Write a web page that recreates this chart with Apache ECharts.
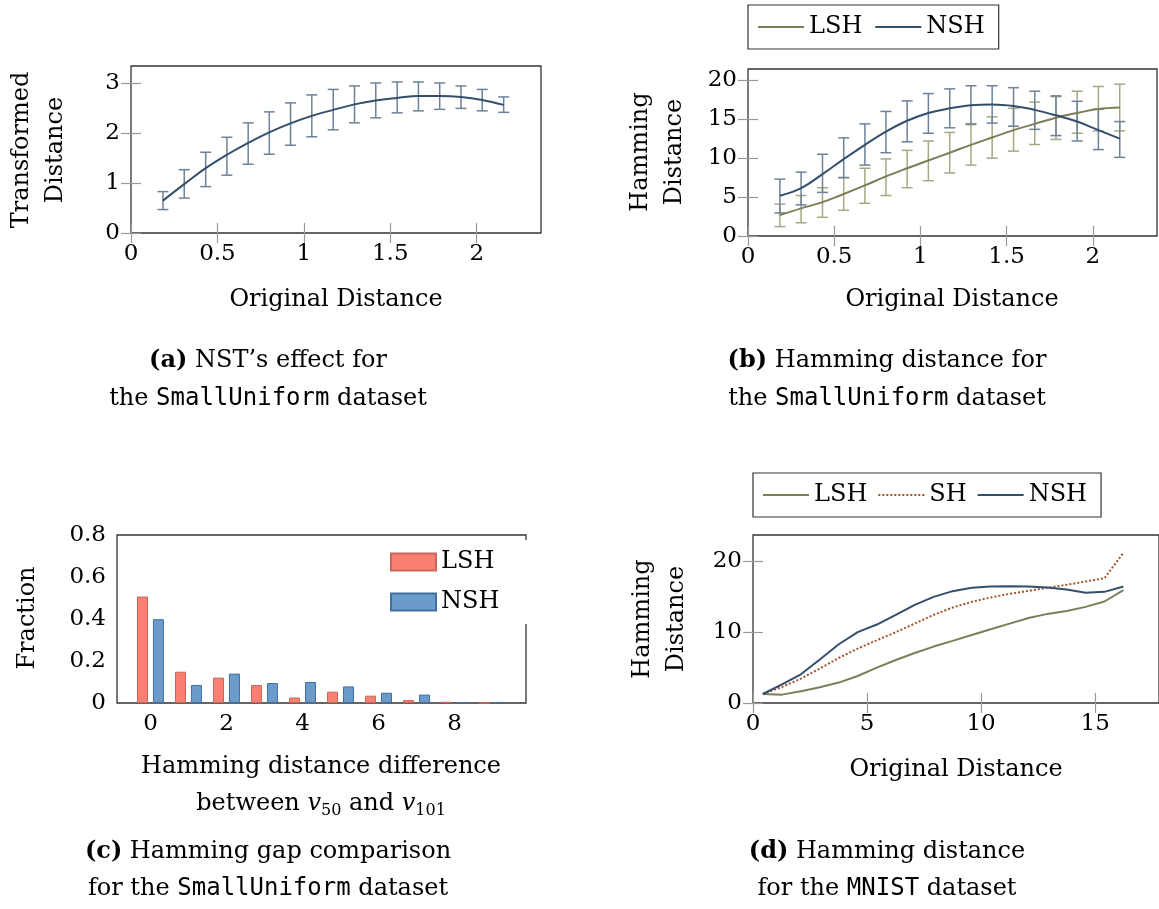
<!DOCTYPE html>
<html><head><meta charset="utf-8">
<script src="https://cdn.jsdelivr.net/npm/echarts@6/dist/echarts.min.js"></script>
<style>html,body{margin:0;padding:0;background:#fff}#c{width:1159px;height:909px}</style>
</head><body><div id="c"></div>
<script>
// ---------- DATA ----------
// (a) NST's effect, (b) Hamming distance  (SmallUniform)
const distX   = [0.185,0.308,0.432,0.555,0.678,0.800,0.923,1.046,1.170,1.293,1.416,1.540,1.663,1.786,1.909,2.032,2.156];
const nstMean = [0.65,0.98,1.30,1.57,1.81,2.02,2.20,2.35,2.47,2.58,2.66,2.71,2.75,2.75,2.73,2.67,2.57];
const nstLo   = [0.47,0.70,0.93,1.16,1.38,1.58,1.76,1.93,2.07,2.21,2.31,2.41,2.45,2.48,2.50,2.45,2.42];
const nstHi   = [0.83,1.27,1.62,1.92,2.21,2.43,2.61,2.77,2.88,2.95,3.01,3.03,3.03,3.01,2.95,2.88,2.73];

const bNshMean = [5.17,6.15,7.95,9.87,11.7,13.4,14.8,15.8,16.4,16.8,16.9,16.7,16.2,15.5,14.7,13.6,12.5];
const bNshLo   = [2.96,4.0,5.6,7.5,9.1,10.7,12.1,13.2,13.9,14.4,14.5,14.1,13.7,12.9,12.2,11.1,10.1];
const bNshHi   = [7.3,8.2,10.5,12.6,14.4,16.0,17.35,18.3,18.9,19.3,19.3,19.05,18.6,18.0,17.3,16.3,14.7];
const bLshMean = [2.7,3.55,4.35,5.4,6.5,7.65,8.7,9.7,10.7,11.7,12.65,13.6,14.4,15.2,15.8,16.3,16.5];
const bLshLo   = [1.2,1.7,2.4,3.3,4.2,5.2,6.2,7.1,8.1,9.1,10.0,10.9,11.75,12.4,13.2,13.5,13.5];
const bLshHi   = [4.1,5.2,6.2,7.5,8.7,9.9,11.0,12.2,13.3,14.3,15.3,16.4,17.2,17.9,18.6,19.2,19.5];

// (c) Hamming gap comparison
const gapX   = [0,1,2,3,4,5,6,7,8,9];
const gapLsh = [0.507,0.149,0.121,0.086,0.026,0.054,0.035,0.014,0.006,0];
const gapNsh = [0.399,0.086,0.140,0.095,0.100,0.079,0.049,0.040,0.004,0.005];

// (d) MNIST
const mnX   = [0.43,1.27,2.10,2.93,3.76,4.59,5.43,6.26,7.09,7.92,8.75,9.59,10.42,11.25,12.08,12.91,13.75,14.58,15.41,16.24];
const mnLsh = [1.27,1.18,1.65,2.22,2.88,3.81,5.0,6.07,7.06,7.96,8.76,9.6,10.41,11.2,12.0,12.57,12.99,13.56,14.32,15.92];
const mnSh  = [1.27,2.26,3.44,4.85,6.36,7.68,8.86,9.99,11.2,12.43,13.47,14.27,14.89,15.4,15.82,16.25,16.67,17.14,17.61,21.19];
const mnNsh = [1.27,2.64,4.05,6.13,8.29,9.99,11.07,12.43,13.84,14.97,15.78,16.25,16.44,16.48,16.44,16.3,16.0,15.54,15.68,16.44];

// tick labels
const ticksDistX = [0,0.5,1,1.5,2];
const ticksAY    = [0,1,2,3];
const ticksBY    = [0,5,10,15,20];
const ticksCX    = [0,2,4,6,8];
const ticksCY    = [0,0.2,0.4,0.6,0.8];
const ticksDX    = [0,5,10,15];
const ticksDY    = [0,10,20];

// ---------- STYLE ----------
const SERIF = 'DejaVu Serif';
const MONO = 'DejaVu Sans Mono';
const FS = 23;
const C_NSH = '#344e6c', C_NSH_ERR = '#6d8299';
const C_LSH = '#7d7d57', C_LSH_ERR = '#a7a783';
const C_SH = '#a0522d';
const C_BAR_L = '#fa8072', C_BAR_LB = '#c9675c';
const C_BAR_N = '#6b9bcb', C_BAR_NB = '#41709e';
const TICK = {show:true, inside:true, length:10, lineStyle:{color:'#9a9a9a', width:1.2}};

const zip = (xs, ys) => xs.map((x,i)=>[x, ys[i]]);

const chart = echarts.init(document.getElementById('c'), null, {renderer:'canvas'});

const grids = [
  {left:131, top:66, width:410, height:167},
  {left:748, top:69, width:409, height:167},
  {left:117, top:535, width:409, height:168},
  {left:753, top:535, width:408, height:168}
].map(g => Object.assign({show:true, borderColor:'#333', borderWidth:1.3, backgroundColor:'transparent'}, g));

function mainX(grid, min, max, labels, ticks) {
  return {type:'value', gridIndex:grid, min, max, position:'bottom',
    axisLine:{show:false}, splitLine:{show:false},
    axisTick: ticks ? Object.assign({customValues:labels}, TICK) : {show:false},
    axisLabel:{customValues:labels, fontFamily:SERIF, fontSize:FS, color:'#000', margin:10}};
}
function mainY(grid, min, max, labels, ticks) {
  return {type:'value', gridIndex:grid, min, max, position:'left',
    axisLine:{show:false}, splitLine:{show:false},
    axisTick: ticks ? Object.assign({customValues:labels}, TICK) : {show:false},
    axisLabel:{customValues:labels, fontFamily:SERIF, fontSize:FS, color:'#000', margin:11}};
}
function mirX(grid, min, max, labels) {
  return {type:'value', gridIndex:grid, min, max, position:'top',
    axisLine:{show:false}, splitLine:{show:false}, axisLabel:{show:false},
    axisTick:Object.assign({customValues:labels}, TICK)};
}
function mirY(grid, min, max, labels) {
  return {type:'value', gridIndex:grid, min, max, position:'right',
    axisLine:{show:false}, splitLine:{show:false}, axisLabel:{show:false},
    axisTick:Object.assign({customValues:labels}, TICK)};
}

const xAxis = [
  mainX(0, 0, 2.372, ticksDistX, true),
  mainX(1, 0, 2.372, ticksDistX, true),
  mainX(2, -0.88, 9.88, ticksCX, false),
  mainX(3, 0, 17.8, ticksDX, true),
  mirX(0, 0, 2.372, ticksDistX),
  mirX(1, 0, 2.372, ticksDistX),
  mirX(3, 0, 17.8, ticksDX)
];
const yAxis = [
  mainY(0, 0, 3.35, ticksAY, true),
  mainY(1, 0, 21.45, ticksBY, true),
  mainY(2, 0, 0.8, ticksCY, false),
  mainY(3, 0, 23.7, ticksDY, true),
  mirY(0, 0, 3.35, ticksAY),
  mirY(1, 0, 21.45, ticksBY),
  mirY(3, 0, 23.7, ticksDY)
];

function errSeries(name, idx, xs, lo, hi, color) {
  return {
    name, type:'custom', xAxisIndex:idx, yAxisIndex:idx, silent:true, z:2,
    data: xs.map((x,i)=>[x, lo[i], hi[i]]),
    encode:{x:0, y:[1,2]},
    renderItem(params, api) {
      const x = api.value(0);
      const p1 = api.coord([x, api.value(1)]);
      const p2 = api.coord([x, api.value(2)]);
      const w = 5.5;
      const st = {stroke:color, lineWidth:1.5, fill:null};
      return {type:'group', children:[
        {type:'line', shape:{x1:p1[0], y1:p1[1], x2:p2[0], y2:p2[1]}, style:st},
        {type:'line', shape:{x1:p1[0]-w, y1:p1[1], x2:p1[0]+w, y2:p1[1]}, style:st},
        {type:'line', shape:{x1:p2[0]-w, y1:p2[1], x2:p2[0]+w, y2:p2[1]}, style:st}
      ]};
    }
  };
}
function lineSeries(name, idx, xs, ys, color, smooth, type) {
  return {name, type:'line', xAxisIndex:idx, yAxisIndex:idx, data:zip(xs, ys),
    symbol:'none', smooth: smooth || false, z:3,
    lineStyle:{color, width:2, type: type || 'solid'}, itemStyle:{color}};
}

const series = [
  // (a)
  errSeries('nstErr', 0, distX, nstLo, nstHi, C_NSH_ERR),
  lineSeries('NST', 0, distX, nstMean, C_NSH, 0.4),
  // (b)
  errSeries('bLshErr', 1, distX, bLshLo, bLshHi, C_LSH_ERR),
  errSeries('bNshErr', 1, distX, bNshLo, bNshHi, C_NSH_ERR),
  lineSeries('LSH', 1, distX, bLshMean, C_LSH, 0.4),
  lineSeries('NSH', 1, distX, bNshMean, C_NSH, 0.4),
  // (c)
  {name:'LSH ', type:'bar', xAxisIndex:2, yAxisIndex:2, data:zip(gapX, gapLsh),
   barWidth:11, barGap:'45%', itemStyle:{color:C_BAR_L, borderColor:C_BAR_LB, borderWidth:1}},
  {name:'NSH ', type:'bar', xAxisIndex:2, yAxisIndex:2, data:zip(gapX, gapNsh),
   barWidth:11, barGap:'45%', itemStyle:{color:C_BAR_N, borderColor:C_BAR_NB, borderWidth:1}},
  // (d)
  lineSeries('LSH  ', 3, mnX, mnLsh, C_LSH),
  lineSeries('SH', 3, mnX, mnSh, C_SH, false, 'dotted'),
  lineSeries('NSH  ', 3, mnX, mnNsh, C_NSH)
];

const legTxt = {fontFamily:SERIF, fontSize:24, color:'#000'};
const legend = [
  {data:['LSH','NSH'], left:748, top:5, orient:'horizontal', itemWidth:46, itemHeight:14, itemGap:12,
   padding:[10,14,10,9], borderColor:'#333', borderWidth:1.2, textStyle:legTxt, selectedMode:false,
   itemStyle:{opacity:0}, formatter: n => n.trim()},
  {data:[{name:'LSH ', icon:'rect'},{name:'NSH ', icon:'rect'}], left:380, top:540, orient:'vertical',
   itemWidth:45, itemHeight:17, itemGap:16, padding:[10,34,10,10], backgroundColor:'#fff',
   textStyle:legTxt, selectedMode:false, formatter: n => n.trim()},
  {data:['LSH  ','SH','NSH  '], left:753, top:473, orient:'horizontal', itemWidth:46, itemHeight:14, itemGap:10,
   padding:[10,14,10,9], borderColor:'#333', borderWidth:1.2, textStyle:legTxt, selectedMode:false,
   itemStyle:{opacity:0}, formatter: n => n.trim()}
];

function txt(x, y, text) {
  return {type:'text', x, y, style:{text, fontFamily:SERIF, fontSize:24, fill:'#000',
    textAlign:'center', textVerticalAlign:'middle'}};
}
function ylab(x, y, text) {
  return {type:'text', x, y, rotation:Math.PI/2,
    style:{text, fontFamily:SERIF, fontSize:24, fill:'#000', textAlign:'center', textVerticalAlign:'middle', lineHeight:34}};
}
function rich(x, y, text, richDef) {
  return {type:'text', x, y, style:{text, rich:richDef, fontFamily:SERIF, fontSize:24, fill:'#000',
    textAlign:'center', textVerticalAlign:'middle'}};
}
const capRich = {
  b:{fontFamily:SERIF, fontSize:24, fontWeight:'bold', fill:'#000'},
  m:{fontFamily:MONO, fontSize:24, fill:'#000'},
  n:{fontFamily:SERIF, fontSize:24, fill:'#000'}
};
const mathRich = {
  n:{fontFamily:SERIF, fontSize:24, fill:'#000', lineHeight:30},
  v:{fontFamily:SERIF, fontSize:24, fontStyle:'italic', fill:'#000', lineHeight:30},
  s:{fontFamily:SERIF, fontSize:16, fill:'#000', lineHeight:16, verticalAlign:'bottom'}
};

const graphic = [
  // axis titles
  txt(336, 300, 'Original Distance'),
  txt(952, 300, 'Original Distance'),
  txt(321, 767, 'Hamming distance difference'),
  rich(321, 804, '{n|between }{v|v}{s|50}{n| and }{v|v}{s|101}', mathRich),
  txt(956, 770, 'Original Distance'),
  ylab(39, 150, 'Transformed\nDistance'),
  ylab(658, 152, 'Hamming\nDistance'),
  ylab(28, 618, 'Fraction'),
  ylab(660, 619, 'Hamming\nDistance'),
  // captions
  rich(268, 361, '{b|(a)}{n| NST’s effect for}', capRich),
  rich(268, 399, '{n|the }{m|SmallUniform}{n| dataset}', capRich),
  rich(887, 361, '{b|(b)}{n| Hamming distance for}', capRich),
  rich(887, 399, '{n|the }{m|SmallUniform}{n| dataset}', capRich),
  rich(268, 852, '{b|(c)}{n| Hamming gap comparison}', capRich),
  rich(268, 889, '{n|for the }{m|SmallUniform}{n| dataset}', capRich),
  rich(887, 852, '{b|(d)}{n| Hamming distance}', capRich),
  rich(887, 889, '{n|for the }{m|MNIST}{n| dataset}', capRich)
];

chart.setOption({
  animation:false,
  backgroundColor:'#fff',
  grid:grids, xAxis, yAxis, series, legend, graphic
});
</script>
</body></html>
